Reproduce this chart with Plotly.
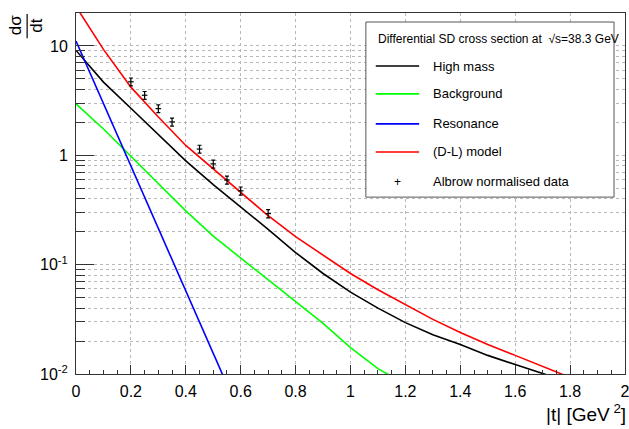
import plotly.graph_objects as go

# ---- data ----
t_grid = [0.0, 0.1, 0.2, 0.3, 0.4, 0.5, 0.6, 0.7, 0.8, 0.9, 1.0, 1.1, 1.2, 1.3, 1.4, 1.5, 1.6, 1.7, 1.8]
t_hm = [0.0, 0.1, 0.2, 0.3, 0.4, 0.5, 0.6, 0.7, 0.8, 0.9, 1.0, 1.1, 1.2, 1.3, 1.4, 1.5, 1.6, 1.7, 1.75]
high_mass = [9.1, 4.67, 2.69, 1.55, 0.89, 0.54, 0.34, 0.21, 0.129, 0.083, 0.056, 0.040, 0.0295, 0.0229, 0.0186, 0.0148, 0.0122, 0.0101, 0.0092]
t_bg = [0.0, 0.1, 0.2, 0.3, 0.4, 0.5, 0.6, 0.7, 0.8, 0.9, 1.0, 1.1, 1.15]
background = [2.95, 1.74, 0.98, 0.55, 0.31, 0.182, 0.115, 0.072, 0.046, 0.029, 0.0174, 0.0112, 0.0095]
t_res = [0.0, 0.1, 0.2, 0.3, 0.4, 0.5, 0.55]
resonance = [11.1, 2.98, 0.80, 0.215, 0.0577, 0.0155, 0.0080]
dl_model = [22.9, 9.3, 4.2, 2.24, 1.23, 0.75, 0.457, 0.28, 0.18, 0.123, 0.083, 0.059, 0.043, 0.0316, 0.024, 0.0186, 0.0148, 0.0117, 0.0093]

t_data = [0.2, 0.25, 0.3, 0.35, 0.45, 0.5, 0.55, 0.6, 0.7]
y_data = [4.70, 3.54, 2.67, 2.02, 1.14, 0.834, 0.594, 0.473, 0.293]
y_err = [0.39, 0.29, 0.22, 0.17, 0.095, 0.07, 0.05, 0.04, 0.025]

x_tickvals = [0, 0.2, 0.4, 0.6, 0.8, 1, 1.2, 1.4, 1.6, 1.8, 2]
x_ticktext = ["0", "0.2", "0.4", "0.6", "0.8", "1", "1.2", "1.4", "1.6", "1.8", "2"]
y_tickvals = [0.01, 0.1, 1, 10]
y_ticktext = ["10<sup>-2</sup>", "10<sup>-1</sup>", "1", "10"]

legend_labels = ["High mass", "Background", "Resonance", "(D-L) model", "Albrow normalised data"]
legend_colors = ["#000000", "#00ff00", "#0000ff", "#ff0000", None]
legend_title = "Differential SD cross section at  √s=38.3 GeV"

FONT = "Liberation Sans, Arial, Helvetica, sans-serif"
GRID = "#b8b8b8"

fig = go.Figure()
fig.add_trace(go.Scatter(x=t_hm, y=high_mass, mode="lines",
                         line=dict(color="#000000", width=1.6)))
fig.add_trace(go.Scatter(x=t_bg, y=background, mode="lines",
                         line=dict(color="#00ff00", width=1.6)))
fig.add_trace(go.Scatter(x=t_res, y=resonance, mode="lines",
                         line=dict(color="#0000ff", width=1.6)))
fig.add_trace(go.Scatter(x=t_grid, y=dl_model, mode="lines",
                         line=dict(color="#ff0000", width=1.6)))
fig.add_trace(go.Scatter(x=t_data, y=y_data, mode="markers",
                         marker=dict(symbol="line-ew", size=4, color="black",
                                     line=dict(color="black", width=1.2)),
                         error_y=dict(type="data", array=y_err, visible=True,
                                      color="black", thickness=1.2, width=2)))

fig.update_layout(
    width=629, height=429,
    margin=dict(l=76, r=4, t=13, b=55),
    paper_bgcolor="white", plot_bgcolor="white",
    showlegend=False,
    font=dict(family=FONT, color="black"),
)

fig.update_xaxes(
    range=[0, 2], tickvals=x_tickvals, ticktext=x_ticktext,
    ticks="inside", ticklen=9, tickcolor="#333", tickwidth=1,
    tickfont=dict(size=16, family=FONT),
    showgrid=True, gridcolor=GRID, griddash="dot", gridwidth=1,
    minor=dict(ticks="inside", ticklen=4, dtick=0.05, tickcolor="#333", showgrid=False),
    showline=True, linecolor="#333", linewidth=1, mirror=True,
    zeroline=False, ticklabelstandoff=3, ticklabeloverflow="allow", automargin=False,
)
fig.update_yaxes(
    type="log", range=[-2, 1.301],
    tickvals=y_tickvals, ticktext=y_ticktext,
    ticks="inside", ticklen=18, tickcolor="#333", tickwidth=1,
    tickfont=dict(size=16, family=FONT),
    showgrid=True, gridcolor=GRID, griddash="dot", gridwidth=1,
    minor=dict(ticks="inside", ticklen=9, dtick="D1", tickcolor="#333",
               showgrid=True, gridcolor=GRID, griddash="dot"),
    showline=True, linecolor="#333", linewidth=1, mirror=True,
    zeroline=False, ticklabelstandoff=4, automargin=False,
)

# axis titles
fig.add_annotation(xref="paper", yref="paper", x=1.006, y=-0.108, xanchor="right", yanchor="middle",
                   text="|t| [GeV<sup> 2</sup>]", showarrow=False, font=dict(size=19, family=FONT))
fig.add_annotation(xref="paper", yref="paper", x=-0.110, y=0.965, xanchor="center", yanchor="middle",
                   text="dσ", textangle=-90, showarrow=False, font=dict(size=17, family=FONT))
fig.add_annotation(xref="paper", yref="paper", x=-0.071, y=0.965, xanchor="center", yanchor="middle",
                   text="dt", textangle=-90, showarrow=False, font=dict(size=17, family=FONT))
fig.add_shape(type="line", xref="paper", yref="paper", x0=-0.089, x1=-0.089, y0=0.930, y1=0.997,
              line=dict(color="black", width=1.2))

# legend box
fig.add_shape(type="rect", xref="paper", yref="paper", x0=0.528, x1=0.980, y0=0.490, y1=0.975,
              line=dict(color="#555", width=1), fillcolor="white", layer="above")
fig.add_annotation(xref="paper", yref="paper", x=0.546, y=0.928, xanchor="left", yanchor="middle",
                   text=legend_title, showarrow=False, font=dict(size=12, family=FONT))
row_y = [0.853, 0.776, 0.693, 0.615, 0.532]
for lab, col, yy in zip(legend_labels, legend_colors, row_y):
    if col is not None:
        fig.add_shape(type="line", xref="paper", yref="paper", x0=0.546, x1=0.625, y0=yy, y1=yy,
                      line=dict(color=col, width=1.6), layer="above")
    else:
        fig.add_annotation(xref="paper", yref="paper", x=0.586, y=yy, xanchor="center", yanchor="middle",
                           text="+", showarrow=False, font=dict(size=12, family=FONT))
    fig.add_annotation(xref="paper", yref="paper", x=0.647, y=yy, xanchor="left", yanchor="middle",
                       text=lab, showarrow=False, font=dict(size=13, family=FONT))

fig.write_html("out.html", config={"displayModeBar": False},
               post_script="document.body.style.margin='0';document.body.style.overflow='hidden';")
